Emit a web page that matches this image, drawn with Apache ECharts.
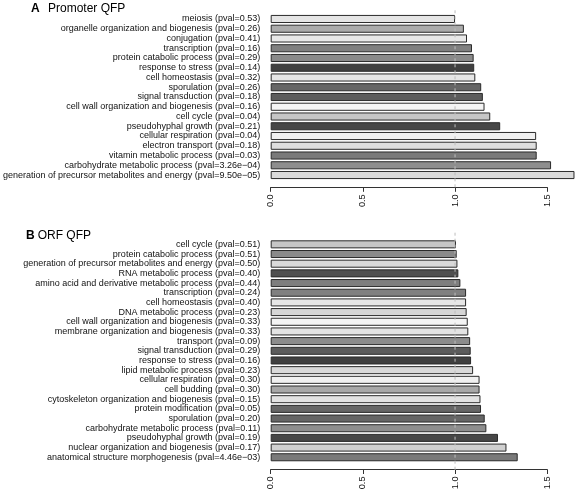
<!DOCTYPE html>
<html>
<head>
<meta charset="utf-8">
<script src="https://cdn.jsdelivr.net/npm/echarts@6/dist/echarts.min.js"></script>
<style>
html,body{margin:0;padding:0;background:#fff;}
#chart{width:576px;height:494px;}
</style>
</head>
<body>
<div id="chart"></div>
<script>
// ---- Panel A: Promoter QFP ----
var categoriesA = [
  "meiosis (pval=0.53)",
  "organelle organization and biogenesis (pval=0.26)",
  "conjugation (pval=0.41)",
  "transcription (pval=0.16)",
  "protein catabolic process (pval=0.29)",
  "response to stress (pval=0.14)",
  "cell homeostasis (pval=0.32)",
  "sporulation (pval=0.26)",
  "signal transduction (pval=0.18)",
  "cell wall organization and biogenesis (pval=0.16)",
  "cell cycle (pval=0.04)",
  "pseudohyphal growth (pval=0.21)",
  "cellular respiration (pval=0.04)",
  "electron transport (pval=0.18)",
  "vitamin metabolic process (pval=0.03)",
  "carbohydrate metabolic process (pval=3.26e\u221204)",
  "generation of precursor metabolites and energy (pval=9.50e\u221205)"
];
var valuesA = [1.00, 1.048, 1.065, 1.092, 1.101, 1.104, 1.110, 1.142, 1.151, 1.160, 1.191, 1.245, 1.440, 1.443, 1.443, 1.521, 1.648];
var colorsA = ["#e5e5e5", "#ababab", "#e8e8e8", "#808080", "#8a8a8a", "#404040", "#e6e6e6", "#666666", "#5c5c5c", "#f4f4f4", "#c6c6c6", "#474747", "#f0f0f0", "#dedede", "#7a7a7a", "#8e8e8e", "#dadada"];

// ---- Panel B: ORF QFP ----
var categoriesB = [
  "cell cycle (pval=0.51)",
  "protein catabolic process (pval=0.51)",
  "generation of precursor metabolites and energy (pval=0.50)",
  "RNA metabolic process (pval=0.40)",
  "amino acid and derivative metabolic process (pval=0.44)",
  "transcription (pval=0.24)",
  "cell homeostasis (pval=0.40)",
  "DNA metabolic process (pval=0.23)",
  "cell wall organization and biogenesis (pval=0.33)",
  "membrane organization and biogenesis (pval=0.33)",
  "transport (pval=0.09)",
  "signal transduction (pval=0.29)",
  "response to stress (pval=0.16)",
  "lipid metabolic process (pval=0.23)",
  "cellular respiration (pval=0.30)",
  "cell budding (pval=0.30)",
  "cytoskeleton organization and biogenesis (pval=0.15)",
  "protein modification (pval=0.05)",
  "sporulation (pval=0.20)",
  "carbohydrate metabolic process (pval=0.11)",
  "pseudohyphal growth (pval=0.19)",
  "nuclear organization and biogenesis (pval=0.17)",
  "anatomical structure morphogenesis (pval=4.46e\u221203)"
];
var valuesB = [1.005, 1.009, 1.013, 1.018, 1.029, 1.060, 1.060, 1.063, 1.069, 1.072, 1.082, 1.085, 1.087, 1.098, 1.133, 1.133, 1.138, 1.141, 1.161, 1.170, 1.233, 1.279, 1.340];
var colorsB = ["#c6c6c6", "#8a8a8a", "#dadada", "#4f4f4f", "#7e7e7e", "#808080", "#e6e6e6", "#d6d6d6", "#f4f4f4", "#e3e3e3", "#8c8c8c", "#5c5c5c", "#404040", "#d9d9d9", "#f0f0f0", "#a8a8a8", "#e2e2e2", "#666666", "#666666", "#8e8e8e", "#474747", "#d0d0d0", "#7a7a7a"];

var xTicks = [0, 0.5, 1.0, 1.5];
var refLine = [[1, 0], [1, 1]];

var FONT = '"Liberation Sans", Arial, Helvetica, sans-serif';

function barData(vals, cols) {
  return vals.map(function (v, i) { return { value: v, itemStyle: { color: cols[i] } }; });
}

function valueAxis(gridIndex) {
  return {
    type: 'value', gridIndex: gridIndex, min: xTicks[0], max: xTicks[xTicks.length - 1], interval: 0.5,
    position: 'bottom', offset: 7.4,
    axisLine: { show: true, lineStyle: { color: '#333', width: 1 } },
    axisTick: { show: true, length: 4.5, lineStyle: { color: '#333', width: 1 } },
    splitLine: { show: false },
    axisLabel: { rotate: 90, margin: 7, fontSize: 9.2, color: '#111', fontFamily: FONT,
      formatter: function (v) { return v.toFixed(1); } }
  };
}
function catAxis(gridIndex, cats) {
  return {
    type: 'category', gridIndex: gridIndex, data: cats, inverse: true,
    axisLine: { show: false }, axisTick: { show: false },
    axisLabel: { interval: 0, margin: 10.5, fontSize: 9, color: '#111', fontFamily: FONT, hideOverlap: false }
  };
}
function hiddenX(gridIndex) {
  return { type: 'value', gridIndex: gridIndex, min: 0, max: 1.5, show: false };
}
function hiddenY(gridIndex) {
  return { type: 'value', gridIndex: gridIndex, min: 0, max: 1, show: false };
}

function grid(top, height) {
  return { left: 270.7, top: top, width: 276.5, height: height, containLabel: false, outerBoundsMode: 'none' };
}

var chart = echarts.init(document.getElementById('chart'), null, { renderer: 'canvas' });
chart.setOption({
  animation: false,
  backgroundColor: '#ffffff',
  grid: [
    grid(14.1, 165.8),
    grid(239.5, 222.6),
    grid(8.4, 178.9),
    grid(231.4, 238.3)
  ],
  xAxis: [valueAxis(0), valueAxis(1), hiddenX(2), hiddenX(3)],
  yAxis: [catAxis(0, categoriesA), catAxis(1, categoriesB), hiddenY(2), hiddenY(3)],
  series: [
    { type: 'bar', xAxisIndex: 0, yAxisIndex: 0, data: barData(valuesA, colorsA), clip: false,
      barCategoryGap: '17%', itemStyle: { borderColor: '#2a2a2a', borderWidth: 1 } },
    { type: 'bar', xAxisIndex: 1, yAxisIndex: 1, data: barData(valuesB, colorsB), clip: false,
      barCategoryGap: '17%', itemStyle: { borderColor: '#2a2a2a', borderWidth: 1 } },
    { type: 'line', xAxisIndex: 2, yAxisIndex: 2, data: refLine, symbol: 'none', z: 10, silent: true,
      lineStyle: { color: '#bdbdbd', width: 1, type: [3, 3] } },
    { type: 'line', xAxisIndex: 3, yAxisIndex: 3, data: refLine, symbol: 'none', z: 10, silent: true,
      lineStyle: { color: '#bdbdbd', width: 1, type: [3, 3] } }
  ],
  graphic: [
    { type: 'text', x: 31, y: 2.5, style: { text: 'A', font: 'bold 12px ' + FONT, fill: '#000', verticalAlign: 'top' } },
    { type: 'text', x: 48, y: 2.5, style: { text: 'Promoter QFP', font: '12px ' + FONT, fill: '#000', verticalAlign: 'top' } },
    { type: 'text', x: 26, y: 230, style: { text: 'B', font: 'bold 12px ' + FONT, fill: '#000', verticalAlign: 'top' } },
    { type: 'text', x: 37.7, y: 230, style: { text: 'ORF QFP', font: '12px ' + FONT, fill: '#000', verticalAlign: 'top' } }
  ]
});
</script>
</body>
</html>
